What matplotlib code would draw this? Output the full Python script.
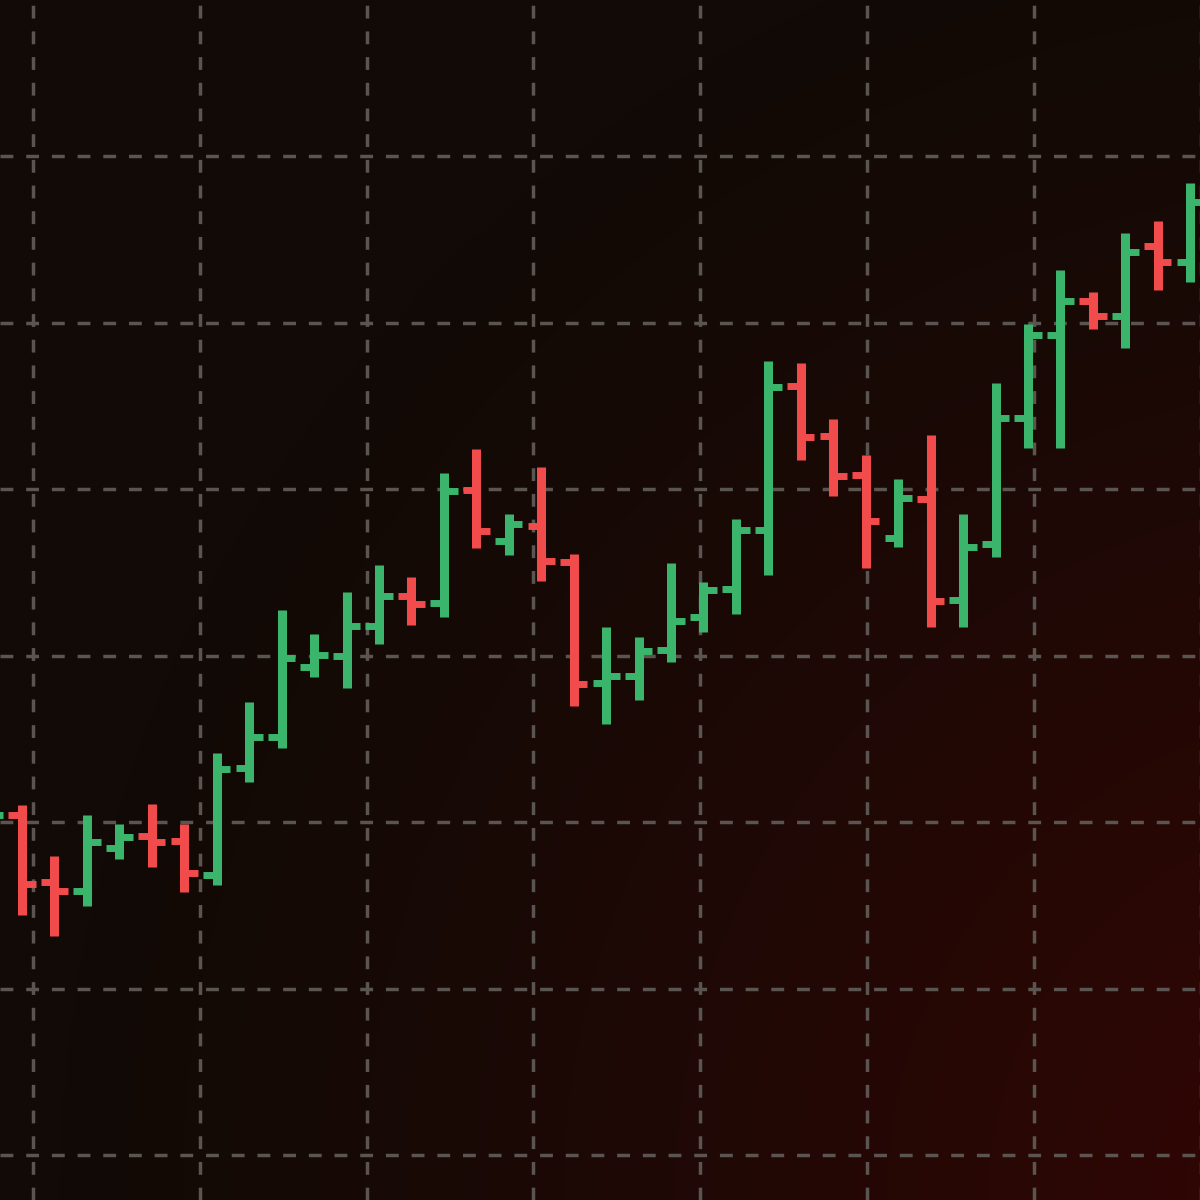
import numpy as np
import matplotlib
matplotlib.use("Agg")
from matplotlib import pyplot as plt
from matplotlib.colors import to_rgb

# OHLC values, one bar per session (first one only partly visible)
opens = [119.52, 120.42, 116.40, 115.86, 118.44, 119.16, 118.86, 116.82, 123.24, 125.11,
         129.31, 130.00, 131.77, 133.57, 133.15, 139.94, 136.88, 137.78, 135.62, 128.35,
         128.77, 130.33, 132.31, 133.99, 137.54, 146.19, 143.18, 140.84, 137.06, 139.40,
         133.33, 136.70, 144.26, 149.25, 151.29, 150.39, 154.59, 153.63]
highs = [121.32, 121.02, 117.96, 120.42, 119.88, 121.08, 119.88, 124.14, 127.21, 132.73,
         131.29, 133.81, 135.44, 134.71, 140.96, 142.40, 138.50, 141.32, 136.10, 131.71,
         131.11, 135.56, 134.41, 138.20, 147.69, 147.57, 144.20, 142.04, 140.60, 143.24,
         138.50, 146.37, 149.91, 153.15, 151.83, 155.38, 156.10, 158.38]
lows = [117.72, 114.41, 113.15, 114.95, 117.78, 117.30, 115.80, 116.22, 122.40, 124.44,
        128.71, 128.05, 130.69, 131.83, 132.31, 136.46, 136.04, 134.47, 126.97, 125.89,
        127.33, 129.61, 131.41, 132.49, 134.83, 141.74, 139.58, 135.26, 136.52, 131.71,
        131.71, 135.92, 142.46, 142.46, 149.61, 148.47, 151.95, 152.43]
closes = [120.42, 116.28, 115.86, 118.80, 119.10, 118.80, 116.94, 123.18, 125.11, 129.85,
          130.03, 131.77, 133.57, 133.09, 139.88, 137.48, 137.90, 135.68, 128.29, 128.77,
          130.27, 132.07, 133.93, 137.54, 146.13, 143.12, 140.81, 138.05, 139.46, 133.27,
          136.52, 144.26, 149.25, 151.29, 150.39, 154.23, 153.63, 157.24]

up_color = "#3bb56c"
down_color = "#f24b4b"
grid_color = "#5a5550"

fig = plt.figure(figsize=(12, 12), dpi=100)
ax = fig.add_axes([0, 0, 1, 1])

x_left, x_right = -0.678, 36.30
y_bottom, y_top = 97.30, 169.37
ax.set_xlim(x_left, x_right)
ax.set_ylim(y_bottom, y_top)

# dark background with a red glow towards the lower right
h, w = 300, 300
yy, xx = np.mgrid[0:1:h * 1j, 0:1:w * 1j]
dist = np.sqrt((xx - 1.15) ** 2 + (yy - 1.0) ** 2)
t = np.clip(1 - dist / 1.1, 0, 1) ** 1.2
c0 = np.array(to_rgb("#110a06"))
c1 = np.array(to_rgb("#340604"))
img = c0 + (c1 - c0) * t[..., None]
ax.imshow(img, extent=[x_left, x_right, y_bottom, y_top], origin="upper",
          aspect="auto", zorder=0, interpolation="bilinear")

# dashed grid
for gx in np.arange(0.34, 37, 5.14):
    ax.axvline(gx, color=grid_color, lw=2.5, ls=(0, (3.7, 3.7)), zorder=1)
for gy in range(100, 170, 10):
    ax.axhline(gy, color=grid_color, lw=2.5, ls=(0, (3.7, 3.7)), zorder=1)

tick = 0.42
for i, (o, hi, lo, c) in enumerate(zip(opens, highs, lows, closes)):
    xi = i - 1
    color = up_color if c >= o else down_color
    ax.vlines(xi, lo, hi, color=color, lw=6.5, capstyle="butt", zorder=3)
    ax.hlines(o, xi - tick, xi, color=color, lw=5, capstyle="butt", zorder=3)
    ax.hlines(c, xi, xi + tick, color=color, lw=5, capstyle="butt", zorder=3)

ax.set_axis_off()
fig.savefig("out.png", dpi=100)
